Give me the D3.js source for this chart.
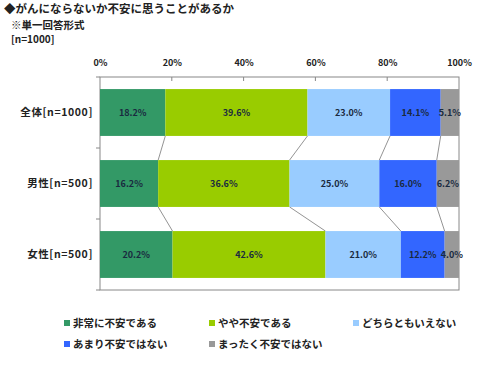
<!DOCTYPE html>
<html>
<head>
<meta charset="utf-8">
<script src="https://cdn.jsdelivr.net/npm/d3@7"></script>
<style>
  body { margin: 0; background: #fff; }
  text { font-family: "Noto Sans CJK JP", "DejaVu Sans", sans-serif; font-weight: bold; }
</style>
</head>
<body>
<svg width="491" height="371"></svg>
<script>
// data
var groups = ["全体[n=1000]", "男性[n=500]", "女性[n=500]"];
var answers = ["非常に不安である", "やや不安である", "どちらともいえない", "あまり不安ではない", "まったく不安ではない"];
var colors = ["#339966", "#99cc00", "#99ccff", "#3366ff", "#999999"];
var values = [
	[18.2, 39.6, 23.0, 14.1, 5.1],
	[16.2, 36.6, 25.0, 16.0, 6.2],
	[20.2, 42.6, 21.0, 12.2, 4.0]
];
var ticks = [0, 20, 40, 60, 80, 100];

var svg = d3.select("svg");

// Title
var title = svg.append("g").attr("fill", "#222");
title.append("text").attr("x", 4).attr("y", 13).style("font-size", "11.5px")
	.text("◆がんにならないか不安に思うことがあるか");
title.append("text").attr("x", 11).attr("y", 29).style("font-size", "10.5px")
	.text("※単一回答形式");
title.append("text").attr("x", 11).attr("y", 43).style("font-size", "10px")
	.text("[n=1000]");

// Scales
var x = d3.scaleLinear().domain([0, 100]).range([100, 459]);
var y = d3.scaleBand().domain(groups).range([77, 290]).paddingInner(0.34).paddingOuter(0.17);

// Stack
var rows = values.map((v, i) => {
	var r = { group: groups[i] };
	answers.forEach((a, j) => r[a] = v[j]);
	return r;
});
var series = d3.stack().keys(answers)(rows);

// Plot frame
svg.append("rect")
	.attr("x", x(0)).attr("y", 77)
	.attr("width", x(100) - x(0)).attr("height", 213)
	.attr("fill", "none").attr("stroke", "#888").attr("stroke-width", 1);

// Top axis
var xAxis = svg.append("g")
	.attr("transform", "translate(0,77)")
	.call(d3.axisTop(x).tickValues(ticks).tickSize(0).tickPadding(11).tickFormat((d) => d + "%"));
xAxis.select(".domain").remove();
xAxis.selectAll("text").style("font-size", "9px").attr("fill", "#222");

// small ticks into the plot
svg.append("g").selectAll("line")
	.data(ticks.slice(1, -1))
	.enter().append("line")
	.attr("x1", (d) => x(d)).attr("x2", (d) => x(d))
	.attr("y1", 77).attr("y2", 81)
	.attr("stroke", "#888");

// left ticks between groups
var step = y.step();
svg.append("g").selectAll("line")
	.data(d3.range(groups.length + 1))
	.enter().append("line")
	.attr("x1", x(0) - 4).attr("x2", x(0))
	.attr("y1", (d) => 77 + d * step).attr("y2", (d) => 77 + d * step)
	.attr("stroke", "#888");

// Connector lines
var conn = [];
for (var i = 0; i < groups.length - 1; i++) {
	var c1 = 0, c2 = 0;
	for (var j = 0; j < answers.length - 1; j++) {
		c1 += values[i][j];
		c2 += values[i + 1][j];
		conn.push({ a: c1, b: c2, g1: groups[i], g2: groups[i + 1] });
	}
}
svg.append("g").selectAll("line")
	.data(conn)
	.enter().append("line")
	.attr("x1", (d) => x(d.a)).attr("y1", (d) => y(d.g1) + y.bandwidth())
	.attr("x2", (d) => x(d.b)).attr("y2", (d) => y(d.g2))
	.attr("stroke", "#777").attr("stroke-width", 0.8);

// Bars
var layer = svg.append("g").selectAll("g")
	.data(series)
	.enter().append("g")
	.attr("fill", (d, i) => colors[i]);

layer.selectAll("rect")
	.data((d) => d)
	.enter().append("rect")
	.attr("x", (d) => x(d[0]))
	.attr("y", (d) => y(d.data.group))
	.attr("width", (d) => x(d[1]) - x(d[0]))
	.attr("height", y.bandwidth());

// Value labels
layer.selectAll("text")
	.data((d) => d)
	.enter().append("text")
	.attr("x", (d) => (x(d[0]) + x(d[1])) / 2)
	.attr("y", (d) => y(d.data.group) + y.bandwidth() / 2)
	.attr("dy", "0.35em")
	.attr("text-anchor", "middle")
	.attr("fill", "#1a2a40")
	.style("font-size", "9px")
	.text((d) => (d[1] - d[0]).toFixed(1) + "%");

// Group labels
svg.append("g").selectAll("text")
	.data(groups)
	.enter().append("text")
	.attr("x", 93)
	.attr("y", (d) => y(d) + y.bandwidth() / 2)
	.attr("dy", "0.35em")
	.attr("text-anchor", "end")
	.attr("fill", "#222")
	.style("font-size", "10.5px")
	.style("letter-spacing", "0.6px")
	.text((d) => d);

// Legend
var legPos = [[64, 323], [209, 323], [353, 323], [64, 344], [209, 344]];
var leg = svg.append("g").selectAll("g")
	.data(answers)
	.enter().append("g")
	.attr("transform", (d, i) => "translate(" + legPos[i][0] + "," + legPos[i][1] + ")");
leg.append("rect")
	.attr("x", 0).attr("y", -3).attr("width", 6).attr("height", 6)
	.attr("fill", (d, i) => colors[i]);
leg.append("text")
	.attr("x", 9).attr("dy", "0.35em")
	.attr("fill", "#222")
	.style("font-size", "10.5px")
	.text((d) => d);
</script>
</body>
</html>
